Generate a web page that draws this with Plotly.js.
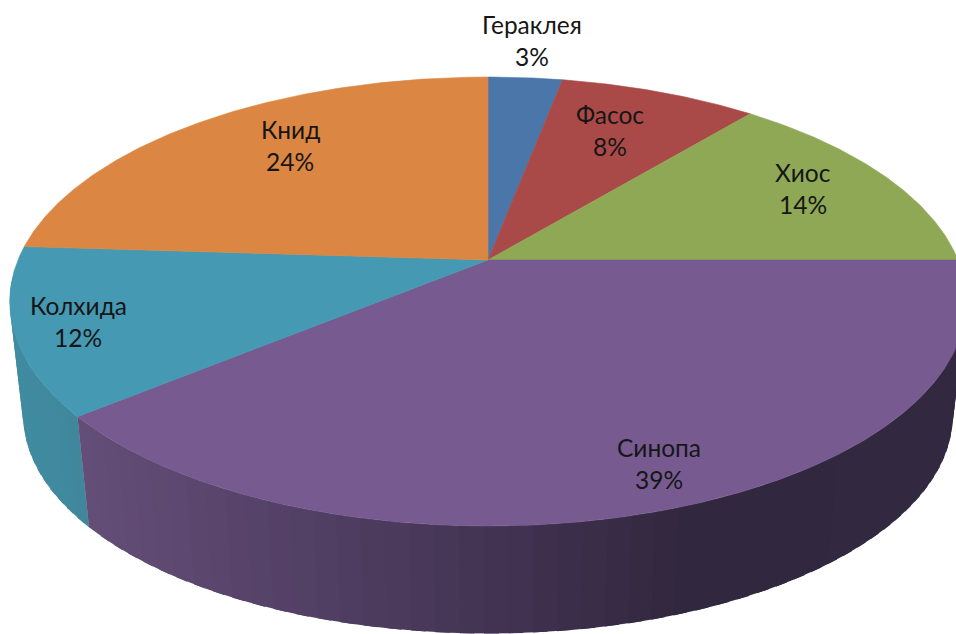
<!DOCTYPE html>
<html>
<head>
<meta charset="utf-8">
<script src="https://cdn.plot.ly/plotly-3.0.1.min.js"></script>
<style>html,body{margin:0;padding:0;background:#fff}</style>
</head>
<body>
<div id="chart" style="width:956px;height:634px"></div>
<script>
// data
const categories = ["Гераклея", "Фасос", "Хиос", "Синопа", "Колхида", "Книд"];
const percents = [3, 8, 14, 39, 12, 24];
// styles
const topColors = ["#4a76a9", "#aa4a48", "#8ea855", "#775b90", "#4599b3", "#db8642"];
const labelCentres = [[532, 24], [610, 114], [803, 172], [659, 447], [78, 305], [290, 129]];
const purpleStops = [[88, 100, 78, 120], [320, 82, 63, 100], [500, 66, 51, 82], [680, 49, 39, 62], [960, 50, 40, 63]];
const tealStops = [[10, 64, 140, 163], [88, 64, 135, 155]];
// projection of the disc
const cx = 488, cy = 260, A = 470, B = 216.8, k = 0.185;
const vanishY = 4367, depthScale = 0.972;
function topPt(deg) {
  const t = deg * Math.PI / 180, u = Math.sin(t), w = -Math.cos(t), d = 1 - k * w;
  return [cx + A * u / d, cy + B * w / d];
}
function botPt(deg) {
  const p = topPt(deg);
  return [cx + depthScale * (p[0] - cx), vanishY - depthScale * (vanishY - p[1])];
}
function shade(stops, x) {
  if (x <= stops[0][0]) return `rgb(${stops[0].slice(1).join(",")})`;
  for (let i = 1; i < stops.length; i++) {
    if (x <= stops[i][0]) {
      const f = (x - stops[i - 1][0]) / (stops[i][0] - stops[i - 1][0]);
      const c = [1, 2, 3].map(j => Math.round(stops[i - 1][j] + f * (stops[i][j] - stops[i - 1][j])));
      return `rgb(${c.join(",")})`;
    }
  }
  return `rgb(${stops[stops.length - 1].slice(1).join(",")})`;
}
function poly(pts, color, lineWidth) {
  return {
    type: "scatter", mode: "lines", x: pts.map(p => p[0]), y: pts.map(p => p[1]),
    fill: "toself", fillcolor: color, line: {color: color, width: lineWidth},
    hoverinfo: "skip", showlegend: false
  };
}
const total = percents.reduce((a, b) => a + b, 0);
const edges = [0];
percents.forEach(v => edges.push(edges[edges.length - 1] + v / total * 360));

const traces = [];
// side wall: the Колхида slice, then the Синопа slice. Each strip runs past
// the next one so that no seam shows; the next strip paints over the extra part.
function wall(from, to, stops) {
  const step = 2.5;
  for (let a = to - step; a > from - step + 1e-6; a -= step) {
    const lo = Math.max(a, from);
    const hi = a + step;
    const mid = botPt((lo + hi) / 2);
    const end = Math.max(lo - 1.5, from);
    traces.push(poly([topPt(end), topPt(hi), botPt(hi), botPt(end), topPt(end)], shade(stops, mid[0]), 0));
  }
}
wall(edges[4], 268, tealStops);
wall(90, edges[4], purpleStops);
// top face
percents.forEach((v, i) => {
  const pts = [[cx, cy]];
  for (let a = edges[i]; a < edges[i + 1]; a += 0.5) pts.push(topPt(a));
  pts.push(topPt(edges[i + 1]), [cx, cy]);
  traces.push(poly(pts, topColors[i], 0.6));
});

const lineGap = 32;
const font = {family: "Lato, 'Open Sans', sans-serif", size: 24.5, color: "#161616"};
const annotations = [];
categories.forEach((c, i) => {
  const base = {xref: "x", yref: "y", showarrow: false, font: font, x: labelCentres[i][0], xanchor: "center", yanchor: "middle"};
  annotations.push(Object.assign({}, base, {text: c, y: labelCentres[i][1]}));
  annotations.push(Object.assign({}, base, {text: percents[i] + "%", y: labelCentres[i][1] + lineGap}));
});

const layout = {
  width: 956, height: 634,
  margin: {l: 0, r: 0, t: 0, b: 0},
  paper_bgcolor: "#fff", plot_bgcolor: "#fff",
  xaxis: {range: [0, 956], visible: false, fixedrange: true},
  yaxis: {range: [634, 0], visible: false, fixedrange: true},
  showlegend: false, annotations: annotations, hovermode: false
};
Plotly.newPlot("chart", traces, layout, {displayModeBar: false, staticPlot: true});
</script>
</body>
</html>
